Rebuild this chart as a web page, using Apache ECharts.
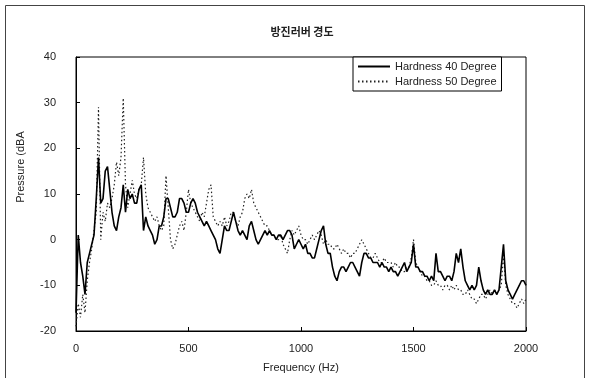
<!DOCTYPE html>
<html lang="ko">

<head>
    <meta charset="UTF-8">
    <title>방진러버 경도</title>
    <script src="https://cdn.jsdelivr.net/npm/echarts@6.0.0/dist/echarts.min.js"></script>
    <style>
        * {
            padding: 0;
            margin: 0;
        }

        #chart {
            width: 589px;
            height: 378px;
            background: #fff;
        }
    </style>
</head>

<body>
    <div id="chart"></div>
</body>
<script>
    // 주파수 간격 (Hz), 0 ~ 2000 Hz
    var freqStep = 10;
    var seriesNames = ["Hardness 40 Degree", "Hardness 50 Degree"];
    var xTicks = [0, 500, 1000, 1500, 2000];
    var yTicks = [-20, -10, 0, 10, 20, 30, 40];

    // 경도 40 (실선), 10 Hz 간격
    var hard40 = [
        -16, 1, -5, -8, -12, -5, -3, -1, 1, 9,
        18, 8, 9, 15, 16, 11, 6, 3, 2, 5,
        7, 12, 6, 11, 9, 10, 8, 8, 11, 12,
        2, 5, 3, 2, 1, -1, 0, 3, 3, 5,
        9, 9, 7, 5, 5, 6, 9, 9, 8, 6,
        6, 8, 9, 8, 6, 5, 4, 3, 4, 3,
        2, 1, 0, -2, -3, 0, 3, 2, 2, 4,
        6, 4, 2, 1, 2, 1, 0, 3, 4, 2,
        0, -1, 0, 1, 2, 1, 2, 1, 1, 0,
        1, 1, 0, 1, 2, 2, 1, -2, -1, 0,
        -1, -2, -1, -3, -3, -4, -4, -2, 0, 2,
        3, -1, -3, -3, -6, -8, -9, -7, -6, -6,
        -7, -6, -5, -5, -6, -7, -8, -5, -3, -3,
        -4, -4, -5, -5, -5, -6, -5, -6, -6, -7,
        -6, -7, -7, -8, -7, -6, -5, -7, -6, -5,
        -1, -6, -6, -7, -7, -8, -8, -9, -8, -9,
        -3, -7, -7, -8, -9, -8, -8, -9, -7, -3,
        -5, -2, -6, -9, -10, -11, -10, -11, -10, -6,
        -9, -11, -12, -11, -12, -12, -11, -12, -11, -6,
        -1, -9, -11, -12, -13, -12, -11, -10, -9, -9,
        -10
    ];

    // 경도 50 (점선), 10 Hz 간격
    var hard50 = [
        -19, -14, -17, -12, -16, -9, -5, -2, 2, 6,
        29, 0, 6, 4, 8, 7, 9, 12, 17, 14,
        18, 31, 12, 7, 10, 13, 10, 9, 11, 12,
        18, 10, 7, 6, 5, 4, 5, 3, 2, 3,
        14, 7, 0, -2, -1, 1, 3, 4, 2, 6,
        11, 8, 7, 6, 5, 4, 6, 5, 8, 11,
        12, 5, 4, 3, 4, 3, 5, 3, 4, 6,
        6, 4, 3, 5, 6, 9, 10, 9, 11, 8,
        7, 6, 5, 4, 3, 3, 2, 1, 1, 0,
        0, 1, -1, -2, -3, 0, 2, 1, 2, 3,
        1, 0, 0, -1, 0, 1, 0, 1, 2, 1,
        -1, 0, -1, -1, -2, -2, -1, -2, -3, -2,
        -3, -3, -4, -3, -3, -2, -1, 0, -1, -2,
        -3, -4, -4, -3, -4, -5, -5, -4, -5, -5,
        -5, -6, -5, -6, -6, -7, -7, -6, -6, -4,
        0, -5, -6, -7, -8, -8, -9, -9, -10, -10,
        -9, -10, -10, -11, -10, -10, -11, -10, -11, -10,
        -11, -11, -12, -12, -11, -12, -13, -13, -14, -13,
        -12, -12, -13, -12, -11, -12, -11, -12, -11, -10,
        -3, -10, -12, -13, -14, -14, -15, -14, -13, -14,
        -13
    ];

    function toPairs(values) {
        var out = [];
        for (var i = 0; i < values.length; i++) {
            out.push([i * freqStep, values[i]]);
        }
        return out;
    }

    var chart = echarts.init(document.getElementById("chart"));
    var textFont = "Liberation Sans";

    chart.setOption({
        animation: false,
        backgroundColor: "#fff",
        title: {
            text: "방진러버 경도",
            left: 297,
            textAlign: "center",
            top: 21,
            textStyle: {
                fontFamily: "Noto Sans CJK KR",
                fontSize: 11,
                fontWeight: "bold",
                color: "#222"
            }
        },
        legend: {
            orient: "vertical",
            left: 353,
            top: 57,
            padding: [4, 5, 4, 4],
            itemGap: 4,
            itemWidth: 32,
            itemHeight: 12,
            borderColor: "#000",
            borderWidth: 1,
            backgroundColor: "#fff",
            itemStyle: { opacity: 0 },
            textStyle: {
                fontFamily: textFont,
                fontSize: 11,
                color: "#222"
            },
            data: seriesNames
        },
        grid: {
            left: 76,
            right: 63,
            top: 57,
            bottom: 45,
            show: true,
            borderColor: "#000",
            borderWidth: 1
        },
        xAxis: {
            type: "value",
            min: xTicks[0],
            max: xTicks[xTicks.length - 1],
            interval: 500,
            name: "Frequency (Hz)",
            nameLocation: "middle",
            nameGap: 31,
            nameTextStyle: { fontFamily: textFont, fontSize: 11, color: "#222" },
            axisLine: { onZero: false, lineStyle: { color: "#000" } },
            axisTick: { inside: true, length: 4, lineStyle: { color: "#000" } },
            axisLabel: {
                fontFamily: textFont, fontSize: 11, color: "#222", margin: 12,
                formatter: function (v) { return String(v); }
            },
            splitLine: { show: false }
        },
        yAxis: {
            type: "value",
            min: yTicks[0],
            max: yTicks[yTicks.length - 1],
            interval: 10,
            axisLine: { show: true, onZero: false, lineStyle: { color: "#000" } },
            axisTick: { show: true, inside: true, length: 4, lineStyle: { color: "#000" } },
            axisLabel: { fontFamily: textFont, fontSize: 11, color: "#222", margin: 20 },
            splitLine: { show: false }
        },
        graphic: [
            {
                // 바깥 테두리
                type: "rect",
                shape: { x: 5.5, y: 5.5, width: 579, height: 380 },
                style: { fill: "none", stroke: "#444", lineWidth: 1 },
                silent: true
            },
            {
                type: "text",
                x: 21,
                y: 167,
                rotation: Math.PI / 2,
                style: {
                    text: "Pressure (dBA",
                    fontFamily: textFont,
                    fontSize: 11,
                    fill: "#222",
                    align: "center",
                    verticalAlign: "middle"
                }
            }
        ],
        series: [
            {
                name: seriesNames[0],
                type: "line",
                symbol: "none",
                data: toPairs(hard40),
                lineStyle: { color: "#000", width: 1.6, type: "solid" },
                itemStyle: { color: "#000" },
                z: 3
            },
            {
                name: seriesNames[1],
                type: "line",
                symbol: "none",
                data: toPairs(hard50),
                lineStyle: { color: "#222", width: 1.2, type: [1.5, 2.5] },
                itemStyle: { color: "#222" },
                z: 2
            }
        ]
    });
</script>

</html>
